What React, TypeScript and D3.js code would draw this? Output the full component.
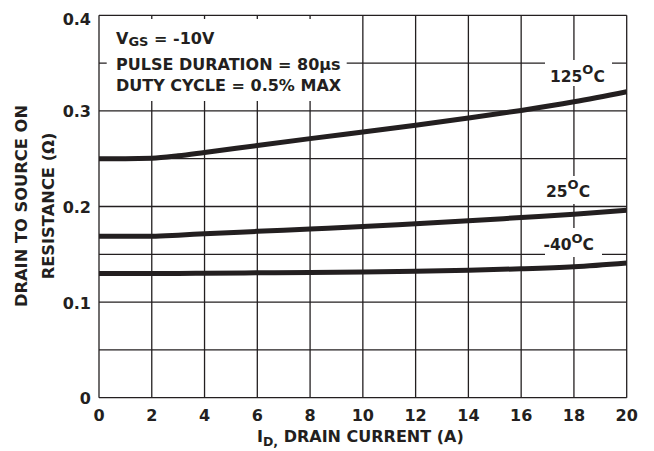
import React from "react";
import * as d3 from "d3";

// I_D (A) sample points
const drainCurrent = [0, 1, 2, 3, 4, 6, 8, 10, 12, 14, 16, 18, 20];
const rds125 = [0.25, 0.25, 0.2505, 0.253, 0.2565, 0.2638, 0.271, 0.278, 0.285, 0.2925, 0.3005, 0.3095, 0.32];
const rds25 = [0.169, 0.169, 0.169, 0.17, 0.1715, 0.174, 0.1765, 0.179, 0.182, 0.185, 0.1885, 0.192, 0.196];
const rdsM40 = [0.13, 0.13, 0.13, 0.13, 0.1302, 0.1306, 0.131, 0.1316, 0.1324, 0.1334, 0.1348, 0.137, 0.141];

const xTicks = [0, 2, 4, 6, 8, 10, 12, 14, 16, 18, 20];
const yTickLabels = [0, 0.1, 0.2, 0.3, 0.4];
const yGrid = [0, 0.05, 0.1, 0.15, 0.2, 0.25, 0.3, 0.35, 0.4];

const W = 654;
const H = 451;
const FONT = "'DejaVu Sans', sans-serif";
const INK = "#231f20";

export default function App() {
  const x = d3.scaleLinear().domain([0, 20]).range([99, 626.7]);
  const y = d3.scaleLinear().domain([0, 0.4]).range([397.7, 15.3]);

  const line = d3
    .line<number>()
    .x((_, i) => x(drainCurrent[i]))
    .y((d) => y(d))
    .curve(d3.curveMonotoneX);

  const curves = [rds125, rds25, rdsM40];

  // white masks behind the labels (grid is broken there)
  const masks = [
    { x: 106.7, y: 19, w: 240, h: 82 },
    { x: 545, y: 60, w: 67, h: 26 },
    { x: 541, y: 176, w: 56, h: 28 },
    { x: 545, y: 228, w: 57, h: 29 },
  ];

  return (
    <svg
      width={W}
      height={H}
      style={{ position: "absolute", left: 0, top: 0, background: "#fff" }}
      fontFamily={FONT}
      fontWeight="bold"
      fill={INK}
    >
      <rect width={W} height={H} fill="#fff" />
      {/* grid */}
      <g stroke={INK} strokeWidth={1.3}>
        {xTicks.map((t) => (
          <line key={"v" + t} x1={x(t)} x2={x(t)} y1={y(0.4)} y2={y(0)} />
        ))}
        {yGrid.map((t) => (
          <line key={"h" + t} x1={x(0)} x2={x(20)} y1={y(t)} y2={y(t)} />
        ))}
      </g>
      {masks.map((m, i) => (
        <rect key={i} x={m.x} y={m.y} width={m.w} height={m.h} fill="#fff" />
      ))}
      {/* curves */}
      {curves.map((c, i) => (
        <path key={i} d={line(c) || ""} fill="none" stroke={INK} strokeWidth={5} />
      ))}
      {/* y tick labels */}
      {yTickLabels.map((t) => (
        <text
          key={"yl" + t}
          x={91}
          y={Math.max(y(t) + 1, 19.5)}
          textAnchor="end"
          dominantBaseline="central"
          fontSize={16}
        >
          {t === 0 ? "0" : t.toFixed(1)}
        </text>
      ))}
      {/* x tick labels */}
      {xTicks.map((t) => (
        <text key={"xl" + t} x={x(t)} y={421} textAnchor="middle" fontSize={16}>
          {t}
        </text>
      ))}
      {/* axis titles */}
      <text x={257} y={441.7} fontSize={16}>
        I<tspan fontSize={12.5} dy={4}>D,</tspan>
        <tspan dy={-4}> DRAIN CURRENT (A)</tspan>
      </text>
      <g transform="translate(27,206) rotate(-90)">
        <text x={0} y={0} textAnchor="middle" fontSize={16.3}>
          DRAIN TO SOURCE ON
        </text>
        <text x={0} y={27} textAnchor="middle" fontSize={16.3}>
          RESISTANCE (Ω)
        </text>
      </g>
      {/* conditions */}
      <g fontSize={16}>
        <text x={116} y={44}>
          V<tspan fontSize={13} dy={2}>GS</tspan>
          <tspan dy={-2}> = -10V</tspan>
        </text>
        <text x={116} y={70}>PULSE DURATION = 80µs</text>
        <text x={116} y={91}>DUTY CYCLE = 0.5% MAX</text>
      </g>
      {/* temperature labels */}
      <g fontSize={15.5}>
        <text x={550} y={81.7}>
          125<tspan fontSize={13} dy={-7.5}>O</tspan>
          <tspan dy={7.5}>C</tspan>
        </text>
        <text x={546} y={196.7}>
          25<tspan fontSize={13} dy={-7.5}>O</tspan>
          <tspan dy={7.5}>C</tspan>
        </text>
        <text x={543.5} y={250}>
          -40<tspan fontSize={13} dy={-7.5}>O</tspan>
          <tspan dy={7.5}>C</tspan>
        </text>
      </g>
    </svg>
  );
}
